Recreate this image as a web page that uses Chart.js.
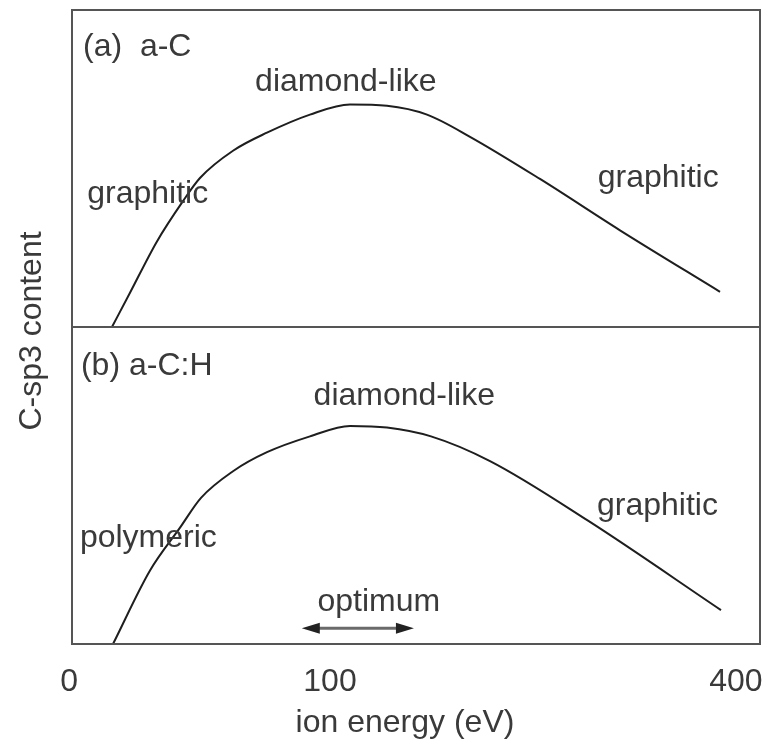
<!DOCTYPE html>
<html>
<head>
<meta charset="utf-8">
<script src="https://cdn.jsdelivr.net/npm/chart.js@4/dist/chart.umd.min.js"></script>
<style>
  html, body { margin: 0; padding: 0; background: #fff; }
  #wrap { width: 767px; height: 742px; position: relative; }
</style>
</head>
<body>
<div id="wrap"><canvas id="c" width="767" height="742"></canvas></div>
<script>
// ---- data (schematic axis units: x 0..100 across the frame, y 0..100 per panel) ----
const energyTickLabels = ['0', '100', '400'];
const energyTickPos = [-0.4, 37.5, 96.5];

// (a) a-C
const xA = [5.81, 8.43, 12.35, 16.13, 18.6, 23.4, 28.34, 34.59, 40.41, 45.78, 51.6, 57.85, 68.02, 79.65, 94.19];
const yA = [0, 10.8, 27.0, 39.7, 47.0, 55.6, 61.3, 67.0, 70.2, 69.8, 67.0, 60.0, 46.7, 30.5, 11.1];

// (b) a-C:H
const xB = [5.96, 11.34, 15.70, 18.75, 23.4, 28.34, 34.59, 40.41, 45.78, 52.18, 60.76, 75.0, 94.33];
const yB = [0, 23.2, 36.7, 46.1, 54.5, 60.5, 65.5, 68.8, 68.3, 65.5, 57.7, 38.9, 10.7];

const yTitle = 'C-sp3 content';
const xTitle = 'ion energy (eV)';

// annotation texts
const notesA = [
  { text: '(a)  a-C', x: 1.6, y: 88.3, align: 'left' },
  { text: 'diamond-like', x: 39.8, y: 77.1, align: 'center' },
  { text: 'graphitic', x: 11.0, y: 41.9, align: 'center' },
  { text: 'graphitic', x: 85.2, y: 47.0, align: 'center' }
];
const notesB = [
  { text: '(b) a-C:H', x: 1.3, y: 87.5, align: 'left' },
  { text: 'diamond-like', x: 48.3, y: 78.1, align: 'center' },
  { text: 'polymeric', x: 11.1, y: 33.5, align: 'center' },
  { text: 'graphitic', x: 85.1, y: 43.6, align: 'center' },
  { text: 'optimum', x: 44.6, y: 13.2, align: 'center' }
];
const optimumArrow = { x1: 33.4, x2: 49.7, y: 5.0 };

const FONT = '"Liberation Sans", Arimo, Helvetica, Arial, sans-serif';
const TEXT_COLOR = '#3a3a3a';
const FS = 32;

const toPts = (xs, ys) => xs.map((x, i) => ({ x, y: ys[i] }));

const overlay = {
  id: 'overlay',
  afterDraw(chart) {
    const ctx = chart.ctx;
    const xs = chart.scales.x;
    const sA = chart.scales.yA, sB = chart.scales.yB;
    const L = chart.chartArea.left, R = chart.chartArea.right;
    ctx.save();
    // frames
    ctx.strokeStyle = '#555';
    ctx.lineWidth = 2;
    [sA, sB].forEach(s => {
      ctx.strokeRect(L, s.top, R - L, s.bottom - s.top);
    });
    // texts
    ctx.fillStyle = TEXT_COLOR;
    ctx.font = FS + 'px ' + FONT;
    ctx.textBaseline = 'middle';
    const put = (arr, s) => arr.forEach(n => {
      ctx.textAlign = n.align;
      ctx.fillText(n.text, xs.getPixelForValue(n.x), s.getPixelForValue(n.y));
    });
    put(notesA, sA);
    put(notesB, sB);
    // arrow
    const ax1 = xs.getPixelForValue(optimumArrow.x1);
    const ax2 = xs.getPixelForValue(optimumArrow.x2);
    const ay = sB.getPixelForValue(optimumArrow.y);
    const head = 18, hw = 5.5;
    ctx.strokeStyle = '#6a6a6a';
    ctx.lineWidth = 3;
    ctx.beginPath();
    ctx.moveTo(ax1 + head - 2, ay);
    ctx.lineTo(ax2 - head + 2, ay);
    ctx.stroke();
    ctx.fillStyle = '#222';
    ctx.beginPath();
    ctx.moveTo(ax1, ay); ctx.lineTo(ax1 + head, ay - hw); ctx.lineTo(ax1 + head, ay + hw); ctx.closePath();
    ctx.fill();
    ctx.beginPath();
    ctx.moveTo(ax2, ay); ctx.lineTo(ax2 - head, ay - hw); ctx.lineTo(ax2 - head, ay + hw); ctx.closePath();
    ctx.fill();
    // axis titles
    ctx.fillStyle = TEXT_COLOR;
    ctx.textAlign = 'center';
    ctx.textBaseline = 'middle';
    ctx.fillText(xTitle, 405, 723);
    ctx.translate(32, 331);
    ctx.rotate(-Math.PI / 2);
    ctx.fillText(yTitle, 0, 0);
    ctx.restore();
  }
};

const panelAxis = () => ({
  type: 'linear', position: 'left', stack: 'panels', stackWeight: 1,
  min: 0, max: 100,
  grid: { display: false, drawTicks: false }, border: { display: false },
  ticks: { display: false }, afterFit: s => { s.width = 0; }
});

new Chart(document.getElementById('c'), {
  type: 'line',
  data: {
    datasets: [
      { data: toPts(xA, yA), yAxisID: 'yA', borderColor: '#1e1e1e', borderWidth: 2,
        pointRadius: 0, cubicInterpolationMode: 'monotone', fill: false },
      { data: toPts(xB, yB), yAxisID: 'yB', borderColor: '#1e1e1e', borderWidth: 2,
        pointRadius: 0, cubicInterpolationMode: 'monotone', fill: false }
    ]
  },
  options: {
    responsive: false,
    animation: false,
    events: [],
    layout: { padding: { left: 72, right: 7, top: 10, bottom: 0 } },
    plugins: { legend: { display: false }, tooltip: { enabled: false } },
    scales: {
      x: {
        type: 'linear', min: 0, max: 100,
        grid: { display: false, drawTicks: false },
        border: { display: false },
        afterBuildTicks: s => { s.ticks = energyTickPos.map(v => ({ value: v })); },
        afterFit: s => { s.height = 98; s.paddingLeft = 0; s.paddingRight = 0; },
        ticks: {
          autoSkip: false, maxRotation: 0, padding: 19,
          color: TEXT_COLOR, font: { family: FONT, size: FS },
          callback: (v, i) => energyTickLabels[i]
        }
      },
      // bottom panel axis listed first: stacked axes are placed bottom-up
      yB: panelAxis(),
      yA: panelAxis()
    }
  },
  plugins: [overlay]
});
</script>
</body>
</html>
